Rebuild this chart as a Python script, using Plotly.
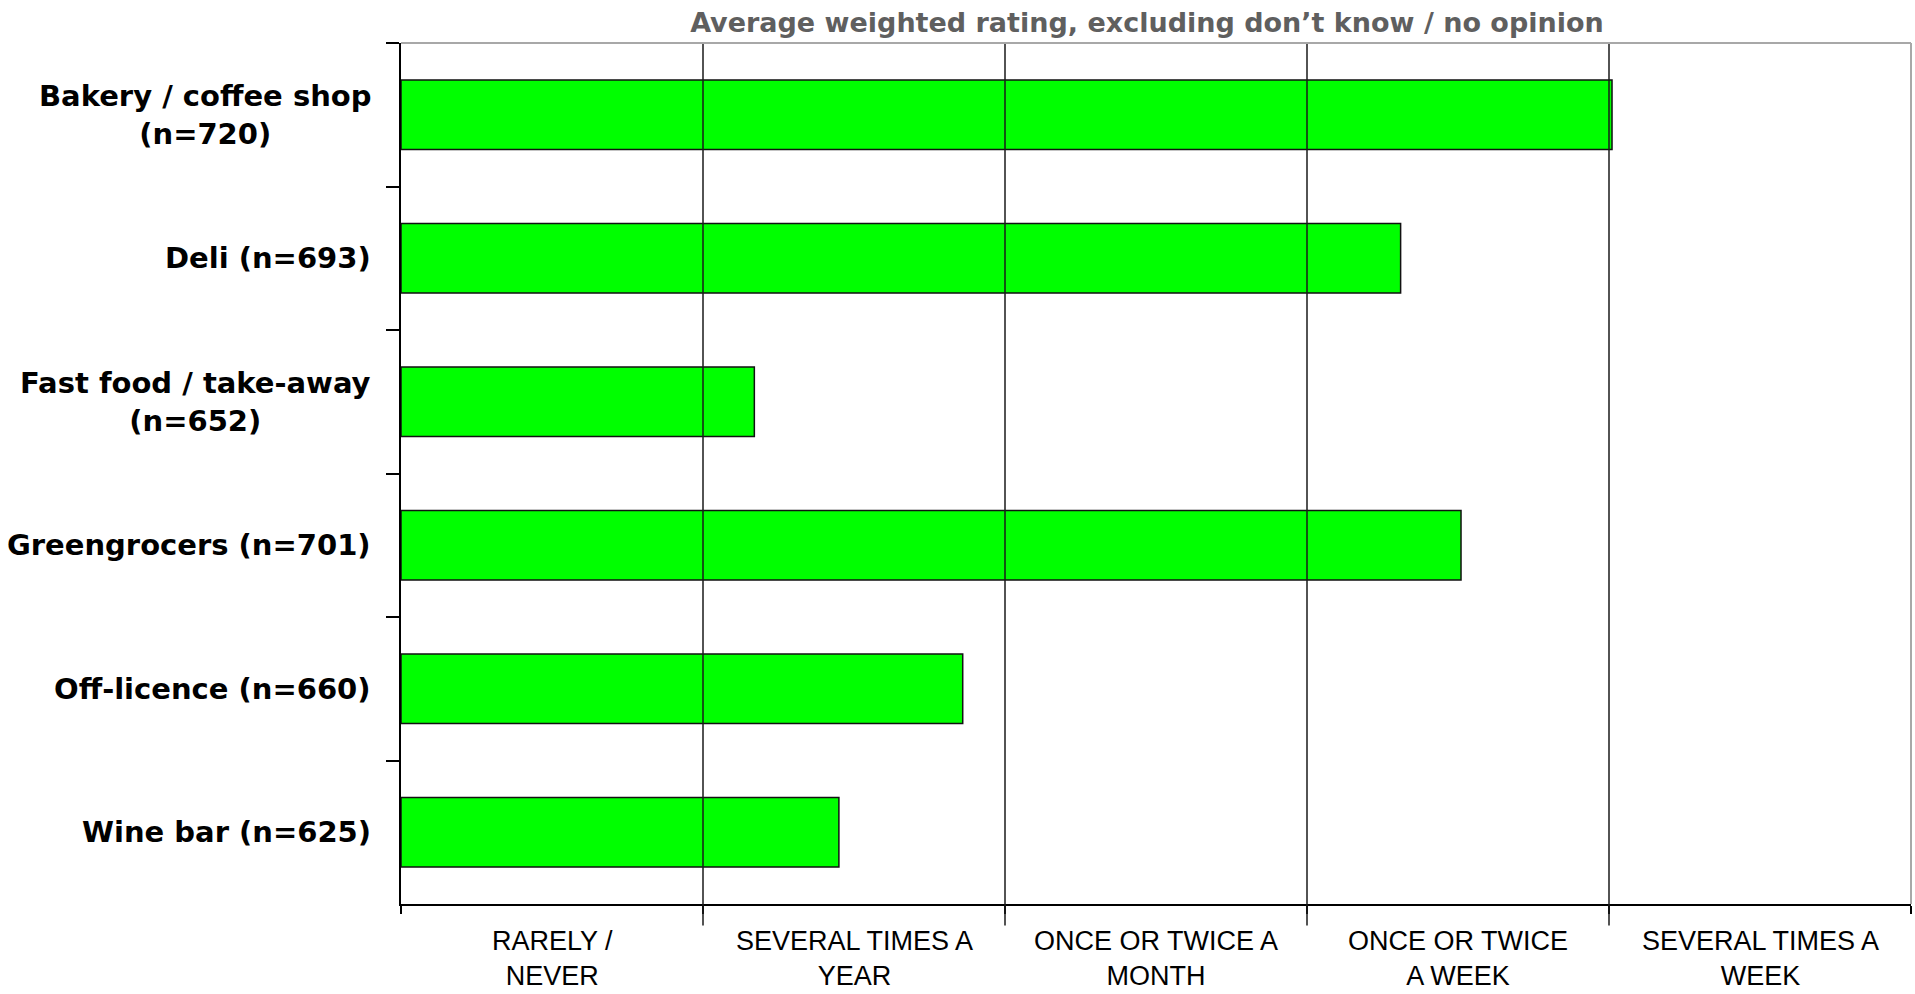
import plotly.graph_objects as go

# Outlet types with sample sizes (top to bottom)
categories = [
    "Bakery / coffee shop<br>(n=720)",
    "Deli (n=693)",
    "Fast food / take-away<br>(n=652)",
    "Greengrocers (n=701)",
    "Off-licence (n=660)",
    "Wine bar (n=625)",
]
# Average weighted frequency rating (0-5 scale across the frequency bands)
ratings = [4.01, 3.31, 1.17, 3.51, 1.86, 1.45]

# Frequency bands along the horizontal axis
band_edges = [0, 1, 2, 3, 4, 5]
band_labels = [
    "RARELY /<br>NEVER",
    "SEVERAL TIMES A<br>YEAR",
    "ONCE OR TWICE A<br>MONTH",
    "ONCE OR TWICE<br>A WEEK",
    "SEVERAL TIMES A<br>WEEK",
]

title_text = "Average weighted rating, excluding don\u2019t know / no opinion"

fig = go.Figure(
    go.Bar(
        x=ratings,
        y=categories,
        orientation="h",
        marker=dict(color="#00FF00", line=dict(color="#111111", width=1.5)),
        hoverinfo="x+y",
    )
)

# Vertical band dividers drawn over the bars, extending below the axis
shapes = []
for edge in band_edges[1:-1]:
    shapes.append(dict(type="line", xref="x", yref="paper", x0=edge, x1=edge,
                       y0=-0.025, y1=1, layer="above",
                       line=dict(color="#1a1a1a", width=1.5)))
# Light frame on top and right
shapes.append(dict(type="line", xref="paper", yref="paper", x0=0, x1=1, y0=1, y1=1,
                   layer="above", line=dict(color="#A8A8A8", width=2)))
shapes.append(dict(type="line", xref="paper", yref="paper", x0=1, x1=1, y0=0, y1=1,
                   layer="above", line=dict(color="#A8A8A8", width=2)))

annotations = []
# Category names, centre-aligned, to the left of the axis
for cat in categories:
    annotations.append(dict(
        x=0, xref="paper", xanchor="right", xshift=-28,
        y=cat, yref="y", yanchor="middle",
        text=cat, showarrow=False, align="center",
        font=dict(family="DejaVu Sans", size=29, color="#000000", weight="bold"),
    ))
# Band names centred between the dividers
for i, lab in enumerate(band_labels):
    annotations.append(dict(
        x=(band_edges[i] + band_edges[i + 1]) / 2, xref="x",
        y=-0.063, yref="paper", yanchor="middle", xanchor="center",
        text=lab, showarrow=False, align="center",
        font=dict(family="Liberation Sans, Arial", size=27, color="#000000"),
    ))

fig.update_layout(
    width=1915, height=994,
    margin=dict(l=401, r=4, t=43, b=90),
    paper_bgcolor="white", plot_bgcolor="white",
    showlegend=False,
    bargap=0.515,
    title=dict(
        text=title_text, x=0.494, xref="paper", xanchor="center",
        y=1 - 23 / 994, yref="container", yanchor="middle",
        font=dict(family="DejaVu Sans", size=27, color="#5F5F5F", weight="bold"),
    ),
    xaxis=dict(
        range=[band_edges[0], band_edges[-1]],
        tickvals=band_edges, showticklabels=False,
        ticks="outside", ticklen=8, tickwidth=2, tickcolor="#000000",
        showline=True, linecolor="#000000", linewidth=2,
        showgrid=False, zeroline=False, fixedrange=True,
    ),
    yaxis=dict(
        type="category", autorange="reversed",
        tickson="boundaries", ticks="outside", ticklen=13, tickwidth=2,
        tickcolor="#000000", showticklabels=False,
        showline=True, linecolor="#000000", linewidth=2,
        showgrid=False, zeroline=False, fixedrange=True,
    ),
    shapes=shapes,
    annotations=annotations,
)

fig.write_html("out.html")
